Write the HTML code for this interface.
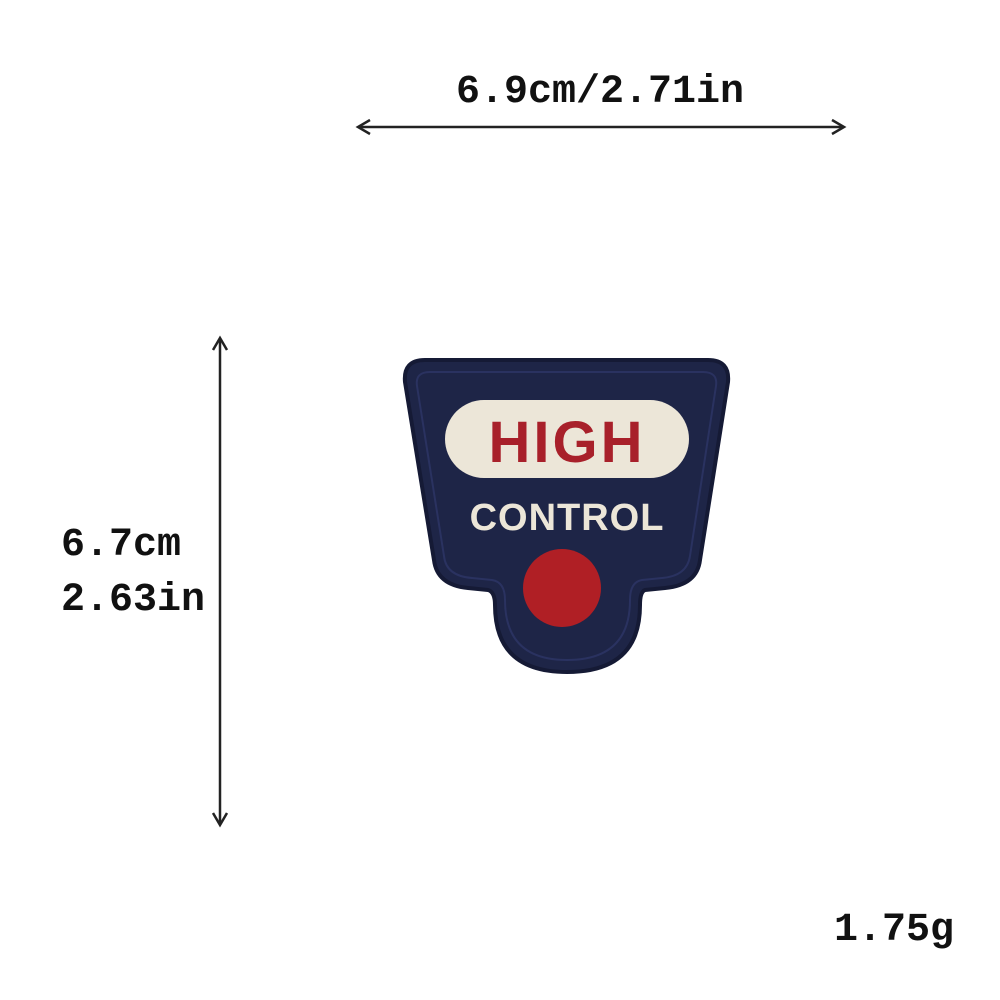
<!DOCTYPE html>
<html><head><meta charset="utf-8"><style>
html,body{margin:0;padding:0;background:#fff;}
body{width:1000px;height:1000px;position:relative;overflow:hidden;font-family:"Liberation Mono",monospace;}
.t{position:absolute;color:#111;font-size:40px;font-weight:bold;letter-spacing:0;line-height:1;}
</style></head><body>
<div class="t" style="left:456px;top:73px;">6.9cm/2.71in</div>
<div class="t" style="left:61px;top:526px;">6.7cm</div>
<div class="t" style="left:61px;top:581px;">2.63in</div>
<div class="t" style="left:834px;top:911px;">1.75g</div>
<svg width="1000" height="1000" style="position:absolute;left:0;top:0">
<g stroke="#222" stroke-width="2.5" fill="none">
<line x1="358" y1="127" x2="844" y2="127"/>
<polyline points="370,120 358,127 370,134"/><polyline points="832,120 844,127 832,134"/>
</g>
<g stroke="#222" stroke-width="2.5" fill="none">
<line x1="220" y1="338" x2="220" y2="825"/>
<polyline points="213,350 220,338 227,350"/><polyline points="213,813 220,825 227,813"/>
</g>
<path d="M425,360 L708,360 Q730,360 728,382 L700,560 Q697,585 665,588 L645,590 Q640,592 640,605 Q640,672 567,672 Q495,672 495,605 Q495,592 488,590 L468,588 Q437,585 434,560 L405,382 Q403,360 425,360 Z" fill="#1e2547" stroke="#151a35" stroke-width="4"/>
<path d="M430,372 L703,372 Q718,372 716,386 L690,556 Q687,576 662,578 L642,580 Q630,582 630,600 Q630,660 567,660 Q505,660 505,600 Q505,582 492,580 L472,578 Q446,576 444,556 L417,386 Q415,372 430,372 Z" fill="none" stroke="#2a3260" stroke-width="2"/>
<rect x="445" y="400" width="244" height="78" rx="39" fill="#ece6d8"/>
<text x="567" y="462" text-anchor="middle" font-family="Liberation Sans,sans-serif" font-weight="bold" font-size="58" fill="#a8202a" letter-spacing="3">HIGH</text>
<text x="567" y="530" text-anchor="middle" font-family="Liberation Sans,sans-serif" font-weight="bold" font-size="38" fill="#ece6d8" letter-spacing="1">CONTROL</text>
<circle cx="562" cy="588" r="39" fill="#b01f25"/>
</svg>
</body></html>
